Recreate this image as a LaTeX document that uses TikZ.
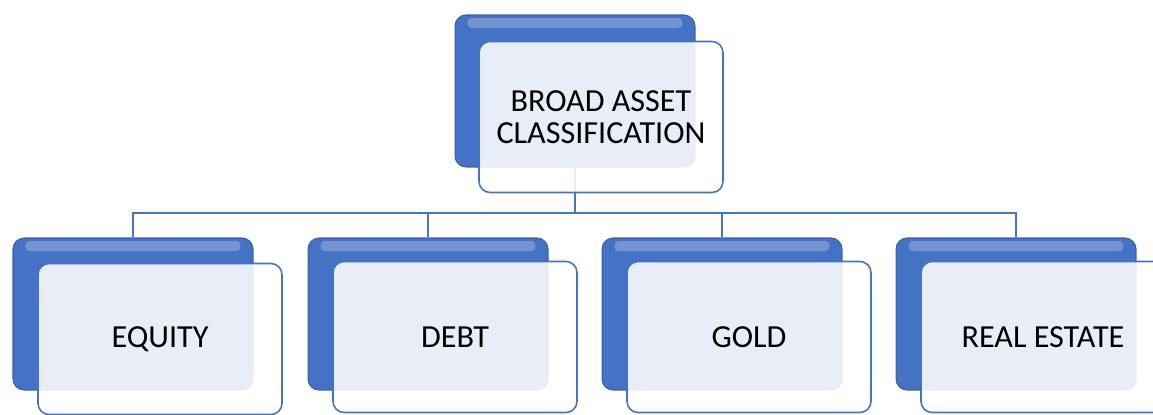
\documentclass[tikz,border=0pt]{standalone}
\usepackage{fontspec}
\setmainfont{Carlito}
\definecolor{boxblue}{RGB}{68,114,196}
\definecolor{lineblue}{RGB}{72,116,196}
\tikzset{
	backbox/.style={draw=boxblue!85!black, line width=0.6pt, fill=boxblue, rounded corners=0.22cm,
		minimum width=4.8cm, minimum height=3.04cm, inner sep=0pt,
		path picture={\fill[white, opacity=.25, rounded corners=0.08cm]
			([xshift=0.25cm,yshift=-0.06cm]path picture bounding box.north west) rectangle
			([xshift=-0.25cm,yshift=-0.26cm]path picture bounding box.north east);}},
	frontbox/.style={draw=boxblue, line width=0.9pt, fill=white, fill opacity=.88, text opacity=1,
		rounded corners=0.22cm, minimum width=4.88cm, minimum height=3.02cm,
		align=center, font=\fontsize{18.3}{18.2}\selectfont},
	link/.style={draw=lineblue, line width=1.3pt}
}
\begin{document}
\begin{tikzpicture}[x=0.02cm, y=-0.02cm]
		\clip (0,0) rectangle (1153,414);
		% back boxes
		\node [backbox] (rootb) at (575,91) {};
		\node [backbox] (equb) at (133,314) {};
		\node [backbox] (debb) at (428,314) {};
		\node [backbox] (golb) at (722,314) {};
		\node [backbox] (reab) at (1016,314) {};
		\coordinate (bus) at (575,213);
		% links, drawn before the front boxes
		\draw [link] (rootb.south) -- (bus);
		\draw [link] (bus) -| (equb.north);
		\draw [link] (bus) -| (debb.north);
		\draw [link] (bus) -| (golb.north);
		\draw [link] (bus) -| (reab.north);
		% front boxes
		\node [frontbox] (root) at (601,117) {BROAD ASSET\\CLASSIFICATION};
		\node [frontbox] (equ) at (160,339) {EQUITY};
		\node [frontbox] (deb) at (455,337) {DEBT};
		\node [frontbox] (gol) at (749,337) {GOLD};
		\node [frontbox] (rea) at (1043,337) {REAL ESTATE};
	\end{tikzpicture}
\end{document}
